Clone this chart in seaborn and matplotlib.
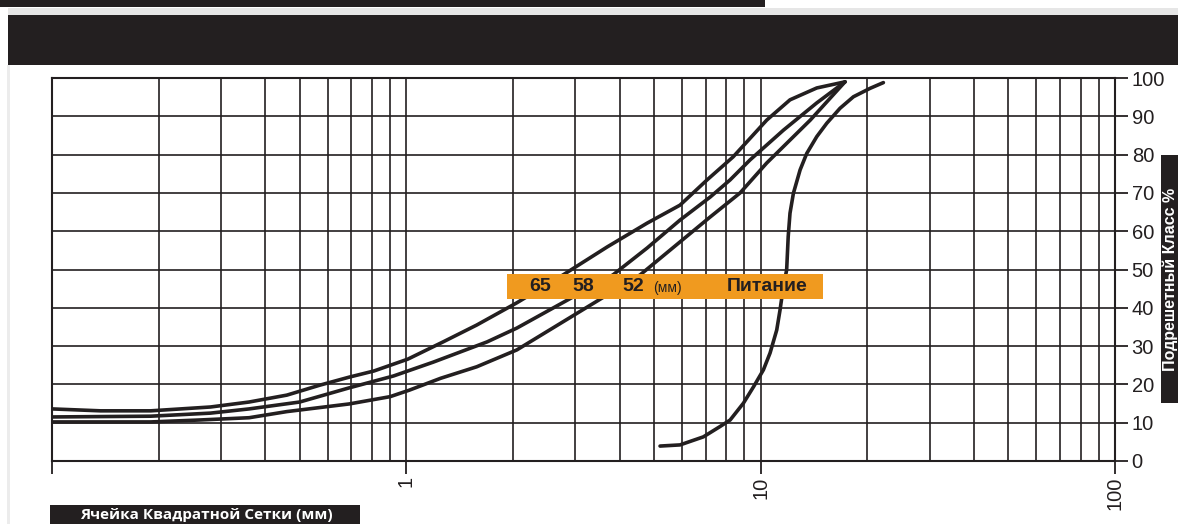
import matplotlib
matplotlib.use("Agg")
import matplotlib.pyplot as plt
from matplotlib.patches import Rectangle
from matplotlib.ticker import LogLocator, NullFormatter
import seaborn as sns

# Кривые гранулометрического состава (ячейка сетки, мм -> подрешетный класс, %)
c65_x = [0.10, 0.137, 0.19, 0.28, 0.36, 0.46, 0.57, 0.69, 0.81, 1.01, 1.27, 1.58, 2.05,
         2.77, 3.69, 4.78, 5.92, 7.06, 8.36, 10.4, 12.1, 14.4, 17.3]
c65_y = [13.6, 13.1, 13.1, 14.1, 15.4, 17.2, 19.8, 21.9, 23.5, 26.6, 31.1, 35.5, 41.3,
         48.6, 55.9, 62.1, 66.8, 73.4, 79.4, 89.0, 94.3, 97.4, 99.0]

c58_x = [0.10, 0.19, 0.28, 0.36, 0.50, 0.69, 0.92, 1.19, 1.69, 2.05, 3.83, 4.78, 5.92,
         7.20, 8.20, 9.33, 11.6, 14.4, 17.3]
c58_y = [11.5, 11.7, 12.5, 13.6, 15.4, 19.1, 22.2, 25.8, 31.1, 34.7, 48.6, 55.6, 62.9,
         68.9, 73.4, 78.6, 86.4, 93.5, 99.0]

c52_x = [0.10, 0.19, 0.26, 0.36, 0.46, 0.69, 0.90, 1.02, 1.25, 1.58, 2.05, 4.57, 5.92,
         7.20, 8.75, 10.4, 13.8, 17.3]
c52_y = [10.2, 10.2, 10.7, 11.3, 12.9, 14.9, 16.8, 18.5, 21.6, 24.6, 29.0, 48.6, 57.2,
         63.7, 70.0, 77.8, 89.0, 99.0]

feed_x = [5.20, 5.92, 6.89, 7.68, 8.20, 8.94, 9.55, 10.18, 10.63, 11.1, 11.34, 11.59,
          11.84, 11.96, 12.1, 12.37, 12.92, 13.49, 14.4, 15.37, 16.75, 18.27, 20.36, 22.2]
feed_y = [3.9, 4.2, 6.3, 9.0, 10.7, 15.1, 19.4, 23.8, 28.2, 34.2, 39.4, 45.5,
          49.9, 58.6, 64.7, 69.9, 76.0, 80.3, 84.7, 88.2, 92.1, 95.1, 97.3, 98.8]

curves = [(c65_x, c65_y), (c58_x, c58_y), (c52_x, c52_y), (feed_x, feed_y)]

x_ticks = [0.1, 1, 10, 100]
x_labels = ["", "1", "10", "100"]
y_ticks = list(range(0, 101, 10))

size_labels = ["65", "58", "52"]
units_label = "(мм)"
feed_label = "Питание"
x_title = "Ячейка Квадратной Сетки (мм)"
y_title = "Подрешетный Класс %"

ink = "#231f20"
orange = "#f09a1f"

sns.set_style("ticks")
plt.rcParams["font.family"] = ["Liberation Sans", "DejaVu Sans"]

W, H = 1178, 524
fig = plt.figure(figsize=(W / 100, H / 100), dpi=100)
fig.patch.set_facecolor("white")

# шапка страницы
def band(x0, y0, x1, y1, color):
    fig.add_artist(Rectangle((x0 / W, 1 - y1 / H), (x1 - x0) / W, (y1 - y0) / H,
                             transform=fig.transFigure, fc=color, ec="none", zorder=0))

band(0, 0, 765, 7, ink)
band(8, 8, W, 15, "#e6e6e6")
band(8, 15, W, 65, ink)
band(7, 65, 10, H, "#ececec")

ax = fig.add_axes([52 / W, 1 - 461 / H, (1115 - 52) / W, (461 - 78) / H])

for xs, ys in curves:
    sns.lineplot(x=xs, y=ys, ax=ax, color=ink, lw=2.6, estimator=None, sort=False,
                 solid_capstyle="round", solid_joinstyle="round", zorder=3)

ax.set_xscale("log")
ax.set_xlim(0.1, 100)
ax.set_ylim(0, 100)
ax.set_xticks(x_ticks)
ax.set_xticklabels(x_labels)
ax.xaxis.set_minor_locator(LogLocator(base=10, subs=range(2, 10)))
ax.xaxis.set_minor_formatter(NullFormatter())
ax.set_yticks(y_ticks)
ax.yaxis.tick_right()
ax.set_xlabel("")
ax.set_ylabel("")

ax.set_axisbelow(True)
ax.grid(which="major", axis="both", color=ink, lw=1.2)
ax.grid(which="minor", axis="x", color=ink, lw=1.2)

ax.tick_params(axis="x", which="minor", length=0)
ax.tick_params(axis="x", which="major", length=9, width=1.3, color=ink,
               labelrotation=90, labelsize=14.5, labelcolor=ink, pad=2)
ax.tick_params(axis="y", length=9, width=1.3, color=ink, labelsize=14.5,
               labelcolor=ink, pad=3)
for sp in ax.spines.values():
    sp.set_visible(True)
    sp.set_color(ink)
    sp.set_linewidth(1.5)

# оранжевая плашка с подписями кривых
ax.add_patch(Rectangle((1.92, 42.3), 15.0 - 1.92, 6.5, fc=orange, ec="none", zorder=5))
for lab, xp in zip(size_labels, [2.39, 3.15, 4.36]):
    ax.text(xp, 45.5, lab, ha="center", va="center", fontsize=14, fontweight="bold",
            color=ink, zorder=6)
ax.text(5.45, 45.2, units_label, ha="center", va="center", fontsize=10, color=ink, zorder=6)
ax.text(10.4, 45.6, feed_label, ha="center", va="center", fontsize=14, fontweight="bold",
        color=ink, zorder=6)

# подписи осей в чёрных плашках
band(1161, 155, W + 5, 403, ink)
fig.text(1163 / W, 1 - 279 / H, y_title, rotation=90, ha="left", va="center",
         fontsize=11.5, fontweight="bold", color="white")

band(50, 505, 360, H + 5, ink)
fig.text(206 / W, 1 - 519 / H, x_title, ha="center", va="baseline",
         fontsize=11, fontweight="bold", color="white", family=["Open Sans", "DejaVu Sans"])

fig.savefig("out.png", dpi=100)
